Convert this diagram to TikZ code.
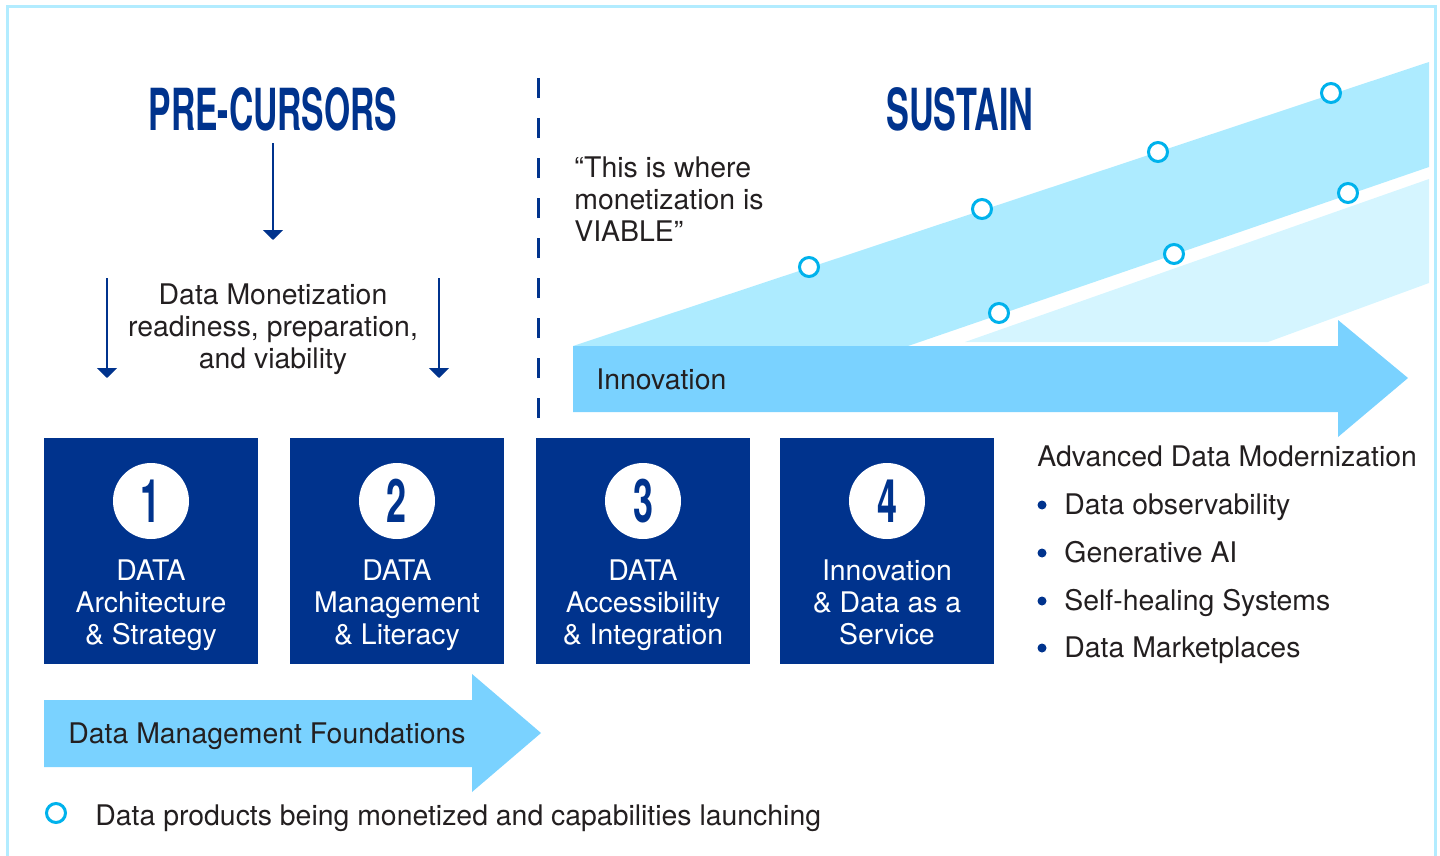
\documentclass[tikz,border=0pt]{standalone}
\usepackage{fontspec}
\setmainfont{TeX Gyre Heros}
\usetikzlibrary{arrows.meta, positioning}

\definecolor{kblue}{RGB}{0,51,141}
\definecolor{inkgrey}{RGB}{35,31,32}
\definecolor{flowblue}{RGB}{122,210,255}
\definecolor{bandblue}{RGB}{173,235,255}
\definecolor{bandpale}{RGB}{213,245,255}
\definecolor{framecol}{RGB}{178,236,255}
\definecolor{launchcyan}{RGB}{0,178,236}

\begin{document}
\begin{tikzpicture}[
  x=0.5pt, y=-0.5pt,
  >={Triangle[width=10pt, length=5pt]},
  every node/.style = {text=inkgrey, inner sep=0pt, font=\fontsize{14.2}{16}\selectfont},
  heading/.style    = {text=kblue, font=\fontsize{29}{29}\selectfont\bfseries},
  stepbox/.style    = {fill=kblue, outer sep=0pt, minimum width=107pt, minimum height=113pt},
  badge/.style      = {circle, fill=white, minimum size=38pt, text=kblue,
                       font=\fontsize{30}{30}\selectfont\bfseries},
  steptext/.style   = {text=white, align=center, anchor=north},
  launch/.style     = {circle, draw=launchcyan, fill=white, line width=1.5pt, minimum size=9.5pt},
  bulletdot/.style  = {circle, fill=kblue, minimum size=4.5pt},
  pointer/.style    = {->, draw=kblue, line width=1pt},
]
  \useasboundingbox (0,0) rectangle (1440,856);
  \draw[framecol, line width=1.5pt] (7,856) |- (1435,7) -- (1435,856);

  % left column: headline and readiness arrows
  \node[heading] (pre)     at (273,109) {\scalebox{0.58}[1]{PRE-CURSORS}};
  \node[heading] (sustain) at (960,109) {\scalebox{0.59}[1]{SUSTAIN}};
  \coordinate (pre tip) at (273,240);
  \draw[pointer, shorten <=6pt] (pre) -- (pre tip);

  \node[align=center] (ready) at (273,329) {Data Monetization\\readiness, preparation,\\and viability};
  \coordinate (ready l0) at (107,278);
  \coordinate (ready l1) at (107,378);
  \coordinate (ready r0) at (439,278);
  \coordinate (ready r1) at (439,378);
  \draw[pointer] (ready l0) -- (ready l1);
  \draw[pointer] (ready r0) -- (ready r1);

  \coordinate (div top) at (538,78);
  \coordinate (div end) at (538,420);
  \draw[kblue, line width=1.5pt, dash pattern=on 10pt off 10pt] (div top) -- (div end);

  \node[anchor=west, align=left] (quote) at (574,199) {“This is where\\monetization is\\VIABLE”};

  % rising bands and innovation arrow
  \fill[bandpale] (965,342) -- (1429,179) -- (1429,283) -- (1268,342) -- cycle;
  \fill[bandblue] (573,346) -- (1429,62) -- (1429,167) -- (908,346) -- cycle;
  \fill[flowblue] (573,346) -- (1338,346) -- (1338,320) -- (1408,378)
                  -- (1338,437) -- (1338,412) -- (573,412) -- cycle;
  \node[anchor=base west] (innov) at (596,389) {Innovation};

  \node[launch] (p1) at (809,267)  {};
  \node[launch] (p2) at (982,209)  {};
  \node[launch] (p3) at (1158,152) {};
  \node[launch] (p4) at (1331,93)  {};
  \node[launch] (p5) at (999,313)  {};
  \node[launch] (p6) at (1174,254) {};
  \node[launch] (p7) at (1348,193) {};

  % the four steps
  \node[stepbox] (s1) at (151,551) {};
  \node[stepbox, right=16pt of s1] (s2) {};
  \node[stepbox, right=16pt of s2] (s3) {};
  \node[stepbox, right=15pt of s3] (s4) {};

  \node[badge] (n1) at ([yshift=-31.5pt]s1.north) {\scalebox{0.6}[1]{1}};
  \node[badge] (n2) at ([yshift=-31.5pt]s2.north) {\scalebox{0.6}[1]{2}};
  \node[badge] (n3) at ([yshift=-31.5pt]s3.north) {\scalebox{0.6}[1]{3}};
  \node[badge] (n4) at ([yshift=-31.5pt]s4.north) {\scalebox{0.6}[1]{4}};

  \node[steptext] (t1) at ([yshift=-60.5pt]s1.north) {DATA\\Architecture\\\& Strategy};
  \node[steptext] (t2) at ([yshift=-60.5pt]s2.north) {DATA\\Management\\\& Literacy};
  \node[steptext] (t3) at ([yshift=-60.5pt]s3.north) {DATA\\Accessibility\\\& Integration};
  \node[steptext] (t4) at ([yshift=-60.5pt]s4.north) {Innovation\\\& Data as a\\Service};

  % modernization list
  \node[anchor=base west] (adm) at (1037,466) {Advanced Data Modernization};
  \node[bulletdot] (d1) at (1042,505) {};
  \node[bulletdot] (d2) at (1042,553) {};
  \node[bulletdot] (d3) at (1042,601) {};
  \node[bulletdot] (d4) at (1042,648) {};
  \node[anchor=base west] (i1) at (1064,514) {Data observability};
  \node[anchor=base west] (i2) at (1064,562) {Generative AI};
  \node[anchor=base west] (i3) at (1064,610) {Self-healing Systems};
  \node[anchor=base west] (i4) at (1064,657) {Data Marketplaces};

  % foundations arrow and key
  \fill[flowblue] (44,700) -- (472,700) -- (472,674) -- (541,733)
                  -- (472,792) -- (472,767) -- (44,767) -- cycle;
  \node[anchor=base west] (found) at (68,743) {Data Management Foundations};

  \node[launch] (key) at (56,813) {};
  \node[anchor=base west] (keytext) at (95,825) {Data products being monetized and capabilities launching};
\end{tikzpicture}
\end{document}
